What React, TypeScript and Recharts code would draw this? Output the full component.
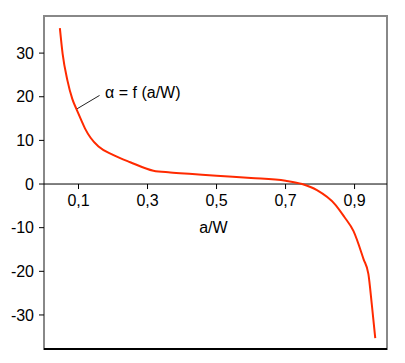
import React from 'react';
import { LineChart, Line, XAxis, YAxis, ReferenceLine, ReferenceDot, ReferenceArea } from 'recharts';

const aW = [0.046, 0.054, 0.068, 0.082, 0.095, 0.107, 0.119, 0.135, 0.158, 0.2, 0.25, 0.317, 0.366, 0.43, 0.5, 0.6, 0.7, 0.748, 0.791, 0.844, 0.87, 0.897, 0.926, 0.94, 0.95, 0.96];
const alpha = [35.7, 29.8, 23.7, 19.5, 17, 14.8, 12.7, 10.6, 8.6, 6.7, 5, 3.05, 2.65, 2.3, 1.9, 1.4, 0.75, 0, -1.4, -4.7, -7.5, -10.8, -17.2, -20.6, -27.6, -35.3];
const xTicks = [0.1, 0.3, 0.5, 0.7, 0.9];
const xTickLabels = ['0,1', '0,3', '0,5', '0,7', '0,9'];
const yTicks = [-30, -20, -10, 0, 10, 20, 30];
const xDomain = [0, 0.994];
const yDomain = [-37.8, 38.5];

const data = aW.map((x, i) => ({ x, y: alpha[i] }));

const FONT = '"Liberation Sans", Arial, sans-serif';

export default function App() {
  return (
    <LineChart
      width={397}
      height={355}
      data={data}
      margin={{ top: 8, right: 18, bottom: 14, left: 0 }}
      style={{ fontFamily: FONT }}
    >
      <XAxis
        dataKey="x"
        type="number"
        domain={xDomain}
        allowDataOverflow
        height={0}
        tick={false}
        tickLine={false}
        axisLine={false}
      />
      <YAxis
        type="number"
        domain={yDomain}
        allowDataOverflow
        ticks={yTicks}
        width={36}
        tickSize={5}
        tickMargin={5}
        tick={{ fill: '#000', fontSize: 16, fontFamily: FONT }}
        tickLine={{ stroke: '#000' }}
        axisLine={false}
        interval={0}
      />
      <ReferenceArea
        x1={xDomain[0]}
        x2={xDomain[1]}
        y1={yDomain[0]}
        y2={yDomain[1]}
        fill="none"
        stroke="#888"
        strokeWidth={2}
        ifOverflow="visible"
      />
      <ReferenceLine y={yDomain[0]} stroke="#000" strokeWidth={2} ifOverflow="visible" />
      <ReferenceLine y={0} stroke="#000" strokeWidth={1} />
      {xTicks.map((t, i) => (
        <ReferenceLine
          key={t}
          segment={[{ x: t, y: 0 }, { x: t, y: -1.15 }]}
          stroke="#000"
          strokeWidth={1}
          label={{ value: xTickLabels[i], position: 'bottom', offset: 6, fill: '#000', fontSize: 16, fontFamily: FONT }}
        />
      ))}
      <ReferenceDot
        x={0.491}
        y={-10}
        r={0}
        fill="none"
        stroke="none"
        label={{ value: 'a/W', position: 'center', fill: '#000', fontSize: 16, fontFamily: FONT }}
      />
      <ReferenceLine
        segment={[{ x: 0.095, y: 17.2 }, { x: 0.161, y: 20.3 }]}
        stroke="#222"
        strokeWidth={1}
      />
      <ReferenceDot
        x={0.177}
        y={20.9}
        r={0}
        fill="none"
        stroke="none"
        label={{ value: 'α = f (a/W)', position: 'right', offset: 0, fill: '#000', fontSize: 16, fontFamily: FONT }}
      />
      <Line
        type="monotone"
        dataKey="y"
        stroke="#ff2a00"
        strokeWidth={2}
        dot={false}
        isAnimationActive={false}
      />
    </LineChart>
  );
}
